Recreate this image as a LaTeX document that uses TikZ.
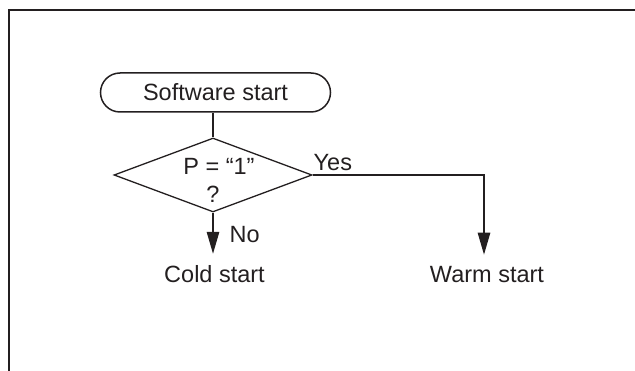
\documentclass[tikz,border=0pt]{standalone}
\usepackage{fontspec}
\setmainfont{Liberation Sans}
\usetikzlibrary{shapes.geometric,arrows.meta}
\definecolor{ink}{HTML}{231F20}
\tikzset{
  lbl/.style={inner sep=0pt, text=ink, font=\fontsize{23.5}{28}\selectfont},
  conn/.style={draw=ink, line width=1.3pt},
  arr/.style={conn, -{Triangle[length=22pt,width=12.5pt]}},
  term/.style={draw=ink, line width=1.5pt, rounded corners=19.5pt, minimum width=230pt, minimum height=39pt, inner sep=0pt, text=ink, font=\fontsize{23.5}{28}\selectfont},
  decision/.style={draw=ink, line width=1.3pt, shape=diamond, aspect=2.676, minimum width=198pt, minimum height=74pt, inner sep=0pt}
}
\begin{document}
\begin{tikzpicture}[x=1pt,y=-1pt]
\useasboundingbox (0,0) rectangle (635,371);
% frame
\coordinate (fa) at (9,372);
\coordinate (fb) at (9,10);
\coordinate (fc) at (636,10);
\draw[ink, line width=2.2pt] (fa) -- (fb) -- (fc);
% nodes
\node[term] (sw) at (215.5,92.5) {Software start};
\node[decision] (dec) at (213,175) {};
\node[lbl, anchor=base] (pq1) at (219,175) {P = “1”};
\node[lbl, anchor=base] (pq2) at (213,203) {?};
\node[lbl, anchor=base, inner ysep=12pt] (cold) at (214.5,283) {Cold start};
\node[lbl, anchor=base, inner ysep=12pt] (warm) at (487,283) {Warm start};
\node[lbl, anchor=base west] (yes) at (313.5,171) {Yes};
\node[lbl, anchor=base west] (no) at (229.5,243) {No};
\coordinate (yc) at (484,175);
% connectors
\draw[conn] (dec.north |- sw.south) -- (dec.north);
\draw[arr] (dec.south) -- (dec.south |- cold.north);
\draw[arr] (dec.east) -- (yc) -- (yc |- warm.north);
\end{tikzpicture}
\end{document}
